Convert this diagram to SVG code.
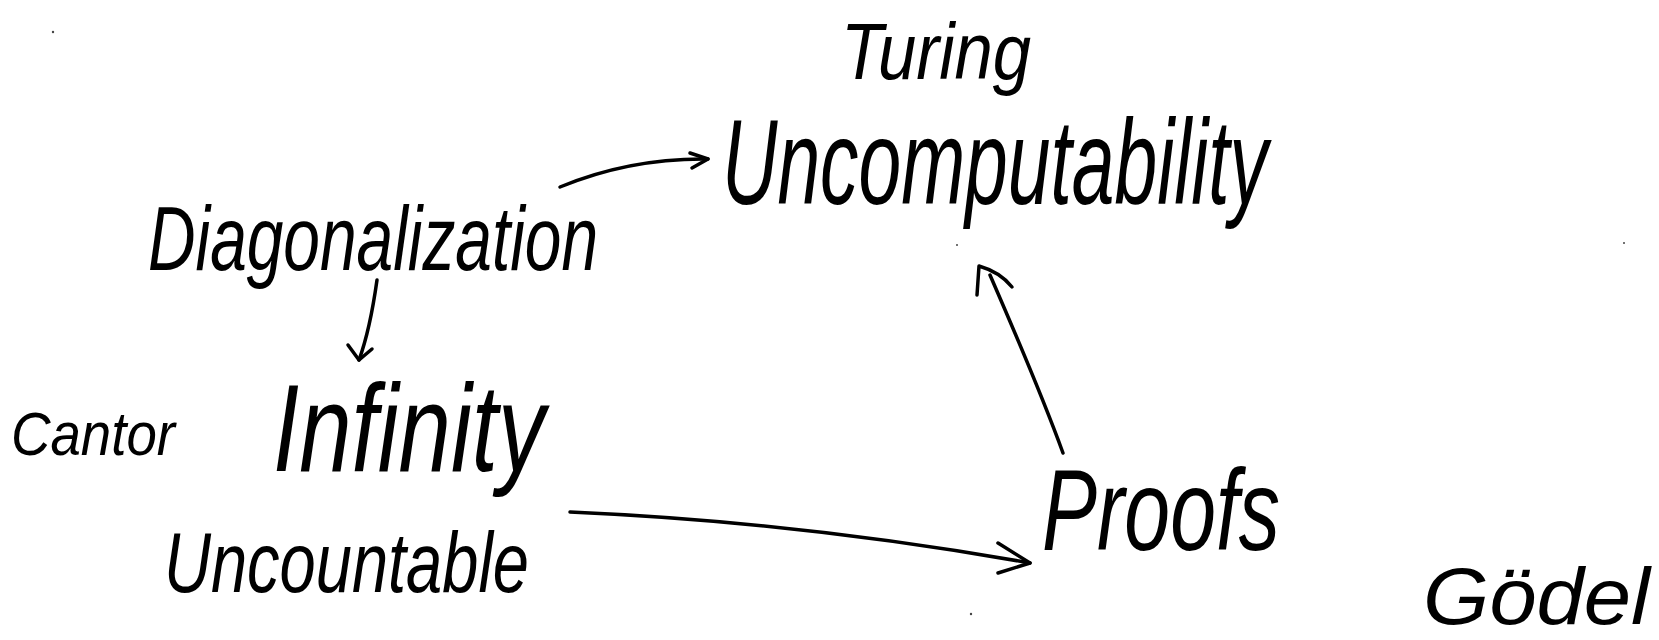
<svg xmlns="http://www.w3.org/2000/svg" width="1659" height="640" viewBox="0 0 1659 640">
<style>
.lbl{font-family:"Liberation Sans",Arial,sans-serif;font-style:italic;fill:#000}
.edge{fill:none;stroke:#000;stroke-width:3.5;stroke-linecap:round;stroke-linejoin:round}
.dot{fill:#444}
</style>
<rect width="1659" height="640" fill="#fff"/>
<g id="turing"><text class="lbl" x="841" y="79" font-size="80" textLength="190" lengthAdjust="spacingAndGlyphs">Turing</text></g>
<g id="uncomputability"><text class="lbl" x="722" y="204" font-size="120" textLength="546" lengthAdjust="spacingAndGlyphs">Uncomputability</text></g>
<g id="diagonalization"><text class="lbl" x="148" y="270" font-size="90" textLength="450" lengthAdjust="spacingAndGlyphs">Diagonalization</text></g>
<g id="cantor"><text class="lbl" x="11" y="455" font-size="62" textLength="164" lengthAdjust="spacingAndGlyphs">Cantor</text></g>
<g id="infinity"><text class="lbl" x="273" y="471" font-size="125" textLength="272" lengthAdjust="spacingAndGlyphs">Infinity</text></g>
<g id="uncountable"><text class="lbl" x="164" y="592" font-size="85" textLength="365" lengthAdjust="spacingAndGlyphs">Uncountable</text></g>
<g id="proofs"><text class="lbl" x="1042" y="550" font-size="115" textLength="238" lengthAdjust="spacingAndGlyphs">Proofs</text></g>
<g id="godel"><text class="lbl" x="1423" y="624" font-size="80" textLength="227" lengthAdjust="spacingAndGlyphs">Gödel</text></g>
<g id="connectors">
<path class="edge" d="M560 187 Q630 158 708 159"/>
<path class="edge" d="M690 153 L708 159 L692 168"/>
<path class="edge" d="M377 280 Q370 330 359 360"/>
<path class="edge" d="M348 345 L359 360 L372 349"/>
<path class="edge" d="M570 512 Q800 522 1030 563"/>
<path class="edge" d="M998 543 L1030 563 L998 573"/>
<path class="edge" d="M1063 453 Q1040 390 990 275"/>
<path class="edge" d="M977 295 L979 266 Q1000 272 1012 287"/>
</g>
<g id="dots">
<circle class="dot" cx="53" cy="32" r="1.2"/>
<circle class="dot" cx="957" cy="245" r="1"/>
<circle class="dot" cx="1624" cy="243" r="1"/>
<circle class="dot" cx="971" cy="614" r="1.2"/>
</g>
</svg>
